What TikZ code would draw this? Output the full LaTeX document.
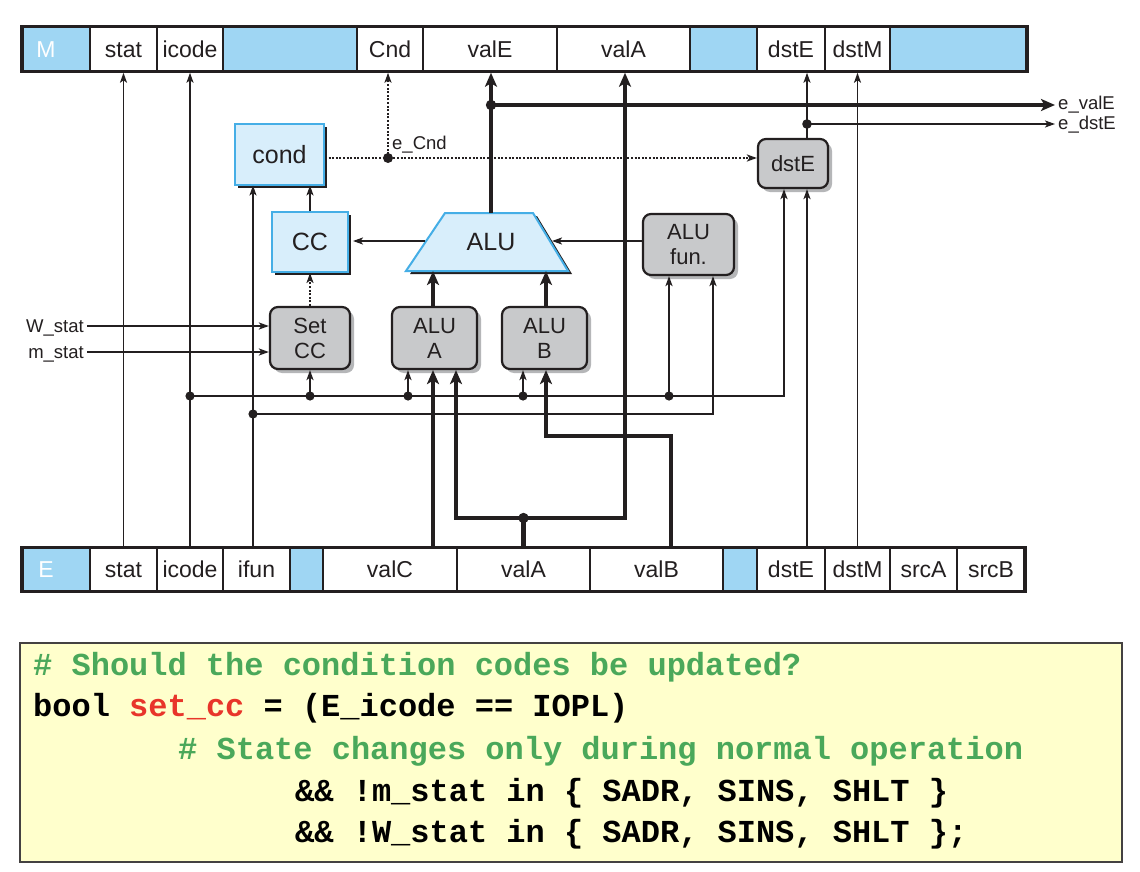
\documentclass[tikz,border=0pt]{standalone}
\usepackage{fontspec}
\setmainfont{Liberation Sans}
\setmonofont{Liberation Mono}
\usetikzlibrary{arrows.meta,shadows}
\definecolor{ink}{HTML}{231F20}
\definecolor{cellblue}{HTML}{9FD6F3}
\definecolor{boxblue}{HTML}{D8EEFB}
\definecolor{boxedge}{HTML}{45AEE6}
\definecolor{gfill}{HTML}{C8C9CB}
\definecolor{gshadow}{HTML}{B5B6B8}
\definecolor{codebg}{HTML}{FFFFCC}
\definecolor{cgreen}{HTML}{4AA85A}
\definecolor{cred}{HTML}{E8352A}
\newcommand{\pcell}[6]{\node[cell,fill=#5,minimum width={(#3)-(#2)}] (#1) at ({((#2)+(#3))/2},#4) {#6};}
\tikzset{
  cell/.style={draw=ink, line width=2.5pt, minimum height=45pt, inner sep=0pt, text=ink,
    font=\fontsize{23}{25}\selectfont, text height=16.5pt, text depth=0pt},
  bbox/.style={draw=boxedge, line width=2pt, fill=boxblue, inner sep=0pt, text=ink,
    font=\fontsize{25}{27}\selectfont,
    drop shadow={shadow xshift=3pt, shadow yshift=-3pt, fill=ink, opacity=1}},
  gbox/.style={draw=ink, line width=2.2pt, rounded corners=8pt, fill=gfill, inner sep=0pt,
    align=center, text=ink, font=\fontsize{22}{25}\selectfont,
    drop shadow={shadow xshift=4pt, shadow yshift=-4pt, fill=gshadow, opacity=1}},
  wire/.style={draw=ink, line width=1.8pt},
  awire/.style={wire, -{Stealth[length=10pt,width=7pt,inset=2.5pt]}},
  dwire/.style={wire, line width=2.8pt, dash pattern=on 2pt off 1.6pt,
    -{Stealth[length=10pt,width=7pt,inset=2.5pt]}},
  twire/.style={draw=ink, line width=4.5pt, line join=miter,
    -{Stealth[length=14pt,width=12pt,inset=3.5pt]}},
  tline/.style={draw=ink, line width=4.5pt, line join=miter},
  lab/.style={inner sep=0pt, text=ink, font=\fontsize{18.5}{20}\selectfont, text height=13pt, text depth=0pt},
  codetxt/.style={inner sep=0pt, font=\fontsize{32}{34}\selectfont\ttfamily\bfseries},
  dot/.style={fill=ink}
}
\begin{document}
\begin{tikzpicture}[x=1pt,y=-1pt]
\useasboundingbox (0,0) rectangle (1140,872);
\fill[white] (0,0) rectangle (1140,872);

% ---------- M bar ----------
\pcell{mM}{22}{90}{49}{cellblue}{}
\pcell{mstat}{90}{157}{49}{white}{stat}
\pcell{micode}{157}{223}{49}{white}{icode}
\pcell{mb1}{223}{357}{49}{cellblue}{}
\pcell{mcnd}{357}{423}{49}{white}{Cnd}
\pcell{mvale}{423}{557}{49}{white}{valE}
\pcell{mvala}{557}{690}{49}{white}{valA}
\pcell{mb2}{690}{757}{49}{cellblue}{}
\pcell{mdste}{757}{825}{49}{white}{dstE}
\pcell{mdstm}{825}{890}{49}{white}{dstM}
\pcell{mb3}{890}{1027}{49}{cellblue}{}
\draw[ink, line width=3.5pt] (22,26.5) rectangle (1027,71.5);
\node[cell, draw=none, text=white, minimum height=0pt] (mlab) at (46,49) {M};

% ---------- E bar ----------
\pcell{eE}{22}{90}{569.5}{cellblue}{}
\pcell{estat}{90}{157}{569.5}{white}{stat}
\pcell{eicode}{157}{223}{569.5}{white}{icode}
\pcell{eifun}{223}{290}{569.5}{white}{ifun}
\pcell{eb1}{290}{323}{569.5}{cellblue}{}
\pcell{evalc}{323}{457}{569.5}{white}{valC}
\pcell{evala}{457}{590}{569.5}{white}{valA}
\pcell{evalb}{590}{723}{569.5}{white}{valB}
\pcell{eb2}{723}{757}{569.5}{cellblue}{}
\pcell{edste}{757}{825}{569.5}{white}{dstE}
\pcell{edstm}{825}{890}{569.5}{white}{dstM}
\pcell{esrca}{890}{957}{569.5}{white}{srcA}
\pcell{esrcb}{957}{1025}{569.5}{white}{srcB}
\draw[ink, line width=3.5pt] (22,547.5) rectangle (1025,591.5);
\node[cell, draw=none, text=white, minimum height=0pt] (elab) at (46,569.5) {E};

% ---------- blocks ----------
\node[bbox, minimum width=89, minimum height=60] (cond) at (279.5,154.5) {cond};
\node[bbox, minimum width=76, minimum height=60] (cc) at (310,242) {CC};
\node[gbox, minimum width=91, minimum height=61] (alufun) at (688.5,244.5) {ALU\\fun.};
\node[gbox, minimum width=70, minimum height=49] (dstebox) at (793,163.5) {dstE};
\node[gbox, minimum width=80, minimum height=62] (setcc) at (310,338) {Set\\CC};
\node[gbox, minimum width=85, minimum height=62] (aluA) at (434.5,338) {ALU\\A};
\node[gbox, minimum width=85, minimum height=62] (aluB) at (544.5,338) {ALU\\B};

% ALU trapezoid
\begin{scope}[shift={(4,3)}]
\fill[ink] (445,213) -- (533,213) -- (568,271) -- (406,271) -- cycle;
\end{scope}
\draw[draw=boxedge, line width=2pt, fill=boxblue, line join=miter]
  (445,213) -- (533,213) -- (568,271) -- (406,271) -- cycle;
\node[text=ink, font=\fontsize{25}{27}\selectfont, inner sep=0pt] (alu) at (491,242) {ALU};
\coordinate (alutop) at (491,213);
\coordinate (alua1) at (433,271);
\coordinate (alub1) at (546,271);
\coordinate (alul) at (425,241);
\coordinate (alur) at (552,241);

% ---------- junctions ----------
\coordinate (jicode) at (190,396);
\coordinate (jifun) at (253,414);
\coordinate (jsetcc) at (310,396);
\coordinate (jaluA) at (408,396);
\coordinate (jaluB) at (523,396);
\coordinate (jfun) at (669,396);
\coordinate (kdst) at (784,396);
\coordinate (kfun) at (713,414);
\coordinate (jvalA) at (523.5,518);
\coordinate (kva1) at (456,518);
\coordinate (kva2) at (625,518);
\coordinate (kvb1) at (671,436);
\coordinate (kvb2) at (546,436);
\coordinate (jvalE) at (491,105);
\coordinate (jdstE) at (807,124);
\coordinate (jcnd) at (388,158);

% labels
\node[lab, anchor=east] (lw) at (84,326) {W\_stat};
\node[lab, anchor=east] (lm) at (84,352) {m\_stat};
\node[lab, anchor=west] (lvale) at (1058,103) {e\_valE};
\node[lab, anchor=west] (ldste) at (1058,123) {e\_dstE};
\node[lab, anchor=west] (lcnd) at (392,143) {e\_Cnd};

% ---------- wires ----------
\draw[awire] (estat.north) -- (mstat.south);
\draw[awire] (eicode.north) -- (micode.south);
\draw[awire] (eifun.north -| jifun) -- (cond.south -| jifun);
\draw[awire] (jifun) -- (kfun) -- (alufun.south -| kfun);
\draw[awire] (jicode) -- (kdst) -- (dstebox.south -| kdst);
\draw[awire] (jsetcc) -- (setcc.south -| jsetcc);
\draw[awire] (jaluA) -- (aluA.south -| jaluA);
\draw[awire] (jaluB) -- (aluB.south -| jaluB);
\draw[awire] (jfun) -- (alufun.south -| jfun);
\foreach \j in {jicode,jifun,jsetcc,jaluA,jaluB,jfun} \fill[dot] (\j) circle (4.6);

\draw[awire] (lw.east) ++(3,0) -- (setcc.west |- lw.east);
\draw[awire] (lm.east) ++(3,0) -- (setcc.west |- lm.east);

\draw[dwire] (setcc.north) -- (cc.south);
\draw[awire] (cc.north) -- (cond.south -| cc.north);
\draw[dwire] (cond.east |- jcnd) -- (dstebox.west |- jcnd);
\draw[dwire] (jcnd) -- (mcnd.south -| jcnd);
\fill[dot] (jcnd) circle (5);

\draw[awire] (alufun.west |- alur) -- (alur);
\draw[awire] (alul) -- ([xshift=4pt]cc.east |- alul);

% thick data paths
\draw[twire] (evalc.north -| alua1) -- (aluA.south -| alua1);
\draw[twire] (aluA.north -| alua1) -- (alua1);
\draw[twire] (aluB.north -| alub1) -- (alub1);
\draw[tline] (evala.north) -- (jvalA);
\draw[twire] (jvalA) -- (kva1) -- (aluA.south -| kva1);
\draw[twire] (jvalA) -- (kva2) -- (mvala.south -| kva2);
\fill[dot] (jvalA) circle (5.2);
\draw[twire] (evalb.north -| kvb1) -- (kvb1) -- (kvb2) -- (aluB.south -| kvb2);
\draw[twire] (alutop) -- (mvale.south -| alutop);
\draw[twire] (jvalE) -- ([xshift=-3pt]lvale.west |- jvalE);
\fill[dot] (jvalE) circle (5.2);

% dstE / dstM
\draw[awire] (edste.north -| jdstE) -- (dstebox.south -| jdstE);
\draw[awire] (dstebox.north -| jdstE) -- (mdste.south -| jdstE);
\draw[awire] (jdstE) -- ([xshift=-3pt]ldste.west |- jdstE);
\fill[dot] (jdstE) circle (4.8);
\draw[awire] (edstm.north) -- (mdstm.south);

% ---------- code box ----------
\node[draw=ink!85, line width=2pt, fill=codebg, minimum width=1102, minimum height=219, inner sep=0pt] (code) at (571,752.5) {};
\node[codetxt, anchor=base west, text=cgreen] (c1) at (33,675) {\# Should the condition codes be updated?};
\node[codetxt, anchor=base west, text=black] (c2) at (33,716) {bool \textcolor{cred}{set\_cc} = (E\_icode == IOPL)};
\node[codetxt, anchor=base west, text=cgreen] (c3) at (178,759) {\# State changes only during normal operation};
\node[codetxt, anchor=base west, text=black] (c4) at (295,801) {\&\& !m\_stat in \{ SADR, SINS, SHLT \}};
\node[codetxt, anchor=base west, text=black] (c5) at (295,842) {\&\& !W\_stat in \{ SADR, SINS, SHLT \};};
\end{tikzpicture}
\end{document}
